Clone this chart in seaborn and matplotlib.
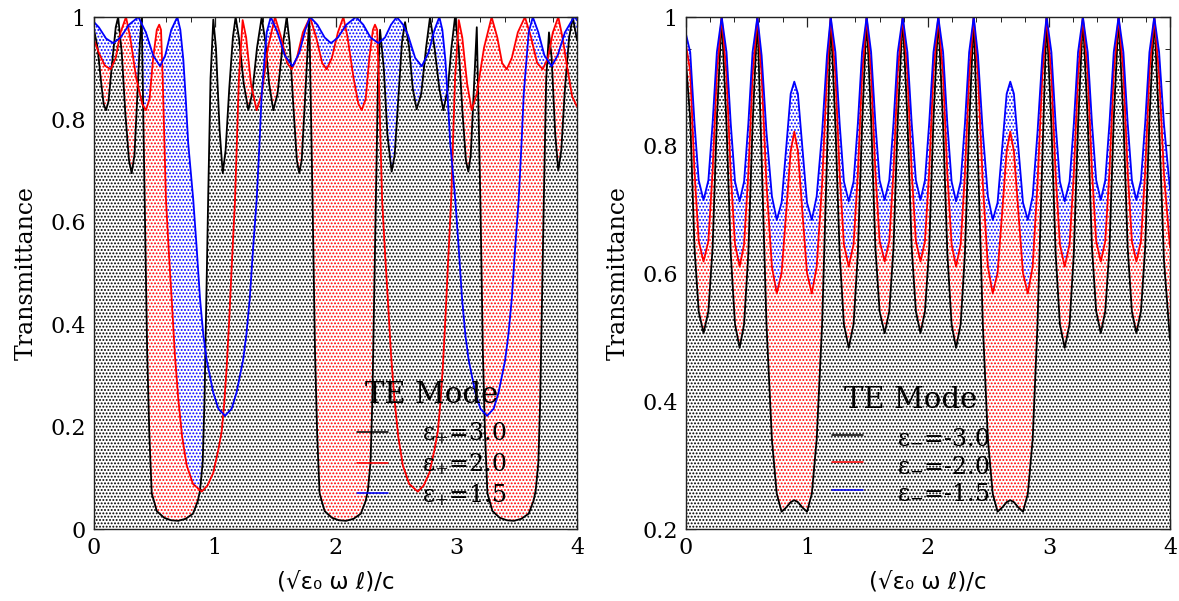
import matplotlib
matplotlib.use("Agg")
import matplotlib.pyplot as plt
import seaborn as sns
from matplotlib.lines import Line2D
from matplotlib.ticker import MultipleLocator

# ---------------- Left panel (epsilon_+ > 0) ----------------
left_black_x = [0.00, 0.03, 0.06, 0.08, 0.099, 0.12, 0.15, 0.18, 0.20, 0.23, 0.26, 0.29, 0.312, 0.335, 0.36, 0.38, 0.395,
                0.42, 0.44, 0.458, 0.478, 0.52, 0.58, 0.64, 0.698, 0.76, 0.82, 0.86, 0.878, 0.90, 0.915, 0.93, 0.945, 0.965, 0.988,
                1.01, 1.04, 1.066, 1.09, 1.12, 1.15, 1.173,
                1.20, 1.24, 1.278, 1.31, 1.35, 1.389,
                1.42, 1.45, 1.485, 1.52, 1.56, 1.596,
                1.62, 1.65, 1.68, 1.70, 1.72, 1.75, 1.783,
                1.81, 1.83, 1.848, 1.868, 1.91, 1.97, 2.03, 2.088, 2.15, 2.21, 2.25, 2.268, 2.29, 2.305, 2.32, 2.335, 2.352, 2.369,
                2.40, 2.43, 2.465, 2.49, 2.52, 2.55, 2.576,
                2.61, 2.64, 2.672, 2.71, 2.75, 2.783,
                2.82, 2.86, 2.893, 2.93, 2.96, 2.99,
                3.02, 3.05, 3.08, 3.10, 3.12, 3.15, 3.17,
                3.20, 3.22, 3.238, 3.258, 3.30, 3.36, 3.42, 3.478, 3.54, 3.60, 3.64, 3.658, 3.68, 3.695, 3.71, 3.725, 3.745, 3.768,
                3.79, 3.82, 3.845, 3.87, 3.90, 3.935, 3.965, 4.00]
left_black = [0.975, 0.94, 0.87, 0.83, 0.818, 0.835, 0.91, 0.98, 1.0, 0.93, 0.81, 0.72, 0.695, 0.73, 0.85, 0.95, 1.0,
              0.64, 0.35, 0.187, 0.07, 0.035, 0.022, 0.017, 0.016, 0.02, 0.03, 0.055, 0.075, 0.13, 0.25, 0.45, 0.64, 0.88, 0.995,
              0.94, 0.78, 0.695, 0.74, 0.86, 0.96, 1.0,
              0.96, 0.87, 0.818, 0.85, 0.94, 1.0,
              0.95, 0.87, 0.818, 0.85, 0.94, 1.0,
              0.95, 0.83, 0.72, 0.695, 0.72, 0.85, 1.0,
              0.64, 0.35, 0.187, 0.07, 0.035, 0.022, 0.017, 0.016, 0.02, 0.03, 0.055, 0.075, 0.13, 0.25, 0.45, 0.64, 0.88, 0.975,
              0.9, 0.77, 0.698, 0.73, 0.84, 0.95, 0.99,
              0.94, 0.86, 0.82, 0.85, 0.94, 1.0,
              0.94, 0.86, 0.818, 0.86, 0.94, 1.0,
              0.94, 0.82, 0.72, 0.698, 0.73, 0.88, 0.98,
              0.64, 0.35, 0.187, 0.07, 0.035, 0.022, 0.017, 0.016, 0.02, 0.03, 0.055, 0.075, 0.13, 0.25, 0.45, 0.64, 0.88, 0.97,
              0.92, 0.77, 0.70, 0.74, 0.86, 0.96, 1.0, 0.955]

left_red_x = [0.00, 0.04, 0.09, 0.138, 0.18, 0.22, 0.265, 0.30, 0.35, 0.40,
              0.43, 0.46, 0.49, 0.52, 0.54, 0.555, 0.569, 0.596, 0.62, 0.643,
              0.67, 0.698, 0.73, 0.768, 0.82, 0.892, 0.94, 0.988, 1.03, 1.057,
              1.08, 1.099, 1.12, 1.14, 1.168, 1.20, 1.231, 1.26, 1.30, 1.347,
              1.39, 1.44, 1.499, 1.55, 1.60, 1.637, 1.68, 1.73, 1.789, 1.84,
              1.89, 1.927, 1.97, 2.02, 2.065, 2.10, 2.15, 2.19, 2.217, 2.25,
              2.28, 2.31, 2.327, 2.345, 2.359, 2.386, 2.41, 2.433, 2.46, 2.488,
              2.52, 2.558, 2.61, 2.682, 2.73, 2.778, 2.82, 2.847, 2.87, 2.889,
              2.91, 2.93, 2.958, 2.99, 3.021, 3.05, 3.09, 3.128, 3.17, 3.23,
              3.293, 3.34, 3.38, 3.418, 3.46, 3.51, 3.569, 3.62, 3.67, 3.716,
              3.76, 3.80, 3.845, 3.88, 3.92, 3.96, 4.00]
left_red = [0.955, 0.93, 0.905, 0.898, 0.92, 0.97, 1.0, 0.96, 0.88, 0.83,
            0.818, 0.84, 0.92, 0.975, 0.985, 0.975, 0.88, 0.643, 0.54, 0.45,
            0.34, 0.254, 0.18, 0.124, 0.088, 0.073, 0.085, 0.11, 0.155, 0.19,
            0.25, 0.317, 0.41, 0.51, 0.643, 0.88, 0.994, 0.96, 0.87, 0.818,
            0.85, 0.94, 1.0, 0.96, 0.91, 0.898, 0.92, 0.97, 1.0, 0.96,
            0.91, 0.898, 0.92, 0.97, 1.0, 0.96, 0.88, 0.83, 0.818, 0.84,
            0.92, 0.975, 0.985, 0.975, 0.88, 0.643, 0.54, 0.45, 0.34, 0.254,
            0.18, 0.124, 0.088, 0.073, 0.085, 0.11, 0.155, 0.19, 0.25, 0.317,
            0.41, 0.51, 0.643, 0.88, 0.994, 0.96, 0.87, 0.818, 0.85, 0.94,
            1.0, 0.96, 0.91, 0.898, 0.92, 0.97, 1.0, 0.96, 0.91, 0.898,
            0.92, 0.97, 1.0, 0.96, 0.90, 0.845, 0.825]

left_blue_x = [0.00, 0.04, 0.10, 0.16, 0.22, 0.29, 0.367, 0.43, 0.49, 0.547,
               0.59, 0.64, 0.69, 0.715, 0.74, 0.76, 0.78, 0.822, 0.85, 0.878,
               0.905, 0.933, 0.988, 1.03, 1.085, 1.14, 1.18, 1.235, 1.262, 1.29,
               1.318, 1.347, 1.37, 1.389, 1.43, 1.464, 1.52, 1.58, 1.645, 1.70,
               1.75, 1.789, 1.85, 1.91, 1.963, 2.02, 2.09, 2.17, 2.23, 2.29,
               2.355, 2.41, 2.46, 2.507, 2.56, 2.60, 2.66, 2.714, 2.77, 2.82,
               2.86, 2.885, 2.91, 2.93, 2.95, 2.992, 3.02, 3.048, 3.075, 3.103,
               3.158, 3.20, 3.255, 3.31, 3.35, 3.405, 3.432, 3.46, 3.488, 3.517,
               3.54, 3.559, 3.60, 3.634, 3.68, 3.73, 3.79, 3.84, 3.90, 3.975, 4.00]
left_blue = [0.99, 0.98, 0.958, 0.949, 0.96, 0.985, 1.0, 0.97, 0.925, 0.904,
             0.925, 0.975, 1.0, 0.975, 0.916, 0.84, 0.754, 0.643, 0.55, 0.45,
             0.38, 0.33, 0.266, 0.235, 0.221, 0.235, 0.266, 0.33, 0.38, 0.45,
             0.55, 0.643, 0.75, 0.85, 0.97, 1.0, 0.97, 0.925, 0.904, 0.93,
             0.975, 1.0, 0.985, 0.96, 0.949, 0.96, 0.985, 1.0, 0.985, 0.96,
             0.949, 0.96, 0.985, 1.0, 0.985, 0.965, 0.92, 0.904, 0.93, 0.975,
             1.0, 0.975, 0.916, 0.84, 0.754, 0.643, 0.55, 0.45, 0.38, 0.33,
             0.266, 0.235, 0.221, 0.235, 0.266, 0.33, 0.38, 0.45, 0.55, 0.643,
             0.75, 0.85, 0.97, 1.0, 0.97, 0.925, 0.904, 0.925, 0.97, 1.0, 0.995]

# ---------------- Right panel (epsilon_- < 0) ----------------
right_x = [0.0, 0.035, 0.07, 0.105, 0.145, 0.185, 0.22, 0.255, 0.295,
           0.335, 0.37, 0.405, 0.443, 0.48, 0.515, 0.55, 0.59,
           0.625, 0.665, 0.71, 0.75, 0.79, 0.83, 0.865, 0.895, 0.925, 0.96, 1.0, 1.04, 1.08, 1.125, 1.165, 1.196,
           1.235, 1.27, 1.305, 1.345, 1.385, 1.42, 1.455, 1.493,
           1.53, 1.565, 1.60, 1.642, 1.68, 1.715, 1.75, 1.791,
           1.83, 1.865, 1.90, 1.938, 1.975, 2.01, 2.045, 2.085,
           2.125, 2.16, 2.195, 2.232, 2.27, 2.305, 2.34, 2.378,
           2.413, 2.453, 2.495, 2.535, 2.575, 2.615, 2.65, 2.68, 2.71, 2.745, 2.785, 2.825, 2.865, 2.905, 2.945, 2.98,
           3.02, 3.055, 3.09, 3.13, 3.17, 3.205, 3.24, 3.28,
           3.32, 3.355, 3.39, 3.428, 3.465, 3.5, 3.535, 3.575,
           3.615, 3.65, 3.685, 3.722, 3.76, 3.795, 3.83, 3.87,
           3.91, 3.95, 4.0]
right_black = [0.93, 0.84, 0.64, 0.54, 0.506, 0.54, 0.64, 0.84, 1.0,
               0.83, 0.63, 0.52, 0.483, 0.52, 0.63, 0.83, 1.0,
               0.78, 0.52, 0.34, 0.255, 0.227, 0.234, 0.242, 0.245, 0.242, 0.234, 0.227, 0.255, 0.34, 0.52, 0.78, 1.0,
               0.83, 0.63, 0.52, 0.483, 0.52, 0.63, 0.83, 1.0,
               0.84, 0.64, 0.54, 0.506, 0.54, 0.64, 0.84, 1.0,
               0.84, 0.64, 0.54, 0.506, 0.54, 0.64, 0.84, 1.0,
               0.83, 0.63, 0.52, 0.483, 0.52, 0.63, 0.83, 1.0,
               0.78, 0.52, 0.34, 0.255, 0.227, 0.234, 0.242, 0.245, 0.242, 0.234, 0.227, 0.255, 0.34, 0.52, 0.78, 1.0,
               0.83, 0.63, 0.52, 0.483, 0.52, 0.63, 0.83, 1.0,
               0.84, 0.64, 0.54, 0.506, 0.54, 0.64, 0.84, 1.0,
               0.84, 0.64, 0.54, 0.506, 0.54, 0.64, 0.84, 1.0,
               0.83, 0.62, 0.495]
right_red = [0.956, 0.915, 0.76, 0.65, 0.618, 0.65, 0.76, 0.915, 1.0,
             0.91, 0.755, 0.645, 0.61, 0.645, 0.755, 0.91, 1.0,
             0.91, 0.74, 0.61, 0.568, 0.6, 0.7, 0.79, 0.821, 0.79, 0.7, 0.6, 0.568, 0.61, 0.74, 0.91, 1.0,
             0.91, 0.755, 0.645, 0.61, 0.645, 0.755, 0.91, 1.0,
             0.915, 0.76, 0.65, 0.618, 0.65, 0.76, 0.915, 1.0,
             0.915, 0.76, 0.65, 0.618, 0.65, 0.76, 0.915, 1.0,
             0.91, 0.755, 0.645, 0.61, 0.645, 0.755, 0.91, 1.0,
             0.91, 0.74, 0.61, 0.568, 0.6, 0.7, 0.79, 0.821, 0.79, 0.7, 0.6, 0.568, 0.61, 0.74, 0.91, 1.0,
             0.91, 0.755, 0.645, 0.61, 0.645, 0.755, 0.91, 1.0,
             0.915, 0.76, 0.65, 0.618, 0.65, 0.76, 0.915, 1.0,
             0.915, 0.76, 0.65, 0.618, 0.65, 0.76, 0.915, 1.0,
             0.91, 0.755, 0.64]
right_blue = [0.973, 0.945, 0.835, 0.745, 0.714, 0.745, 0.835, 0.945, 1.0,
              0.945, 0.833, 0.743, 0.712, 0.743, 0.833, 0.945, 1.0,
              0.94, 0.82, 0.72, 0.683, 0.71, 0.8, 0.88, 0.899, 0.88, 0.8, 0.71, 0.683, 0.72, 0.82, 0.94, 1.0,
              0.945, 0.833, 0.743, 0.712, 0.743, 0.833, 0.945, 1.0,
              0.945, 0.835, 0.745, 0.714, 0.745, 0.835, 0.945, 1.0,
              0.945, 0.835, 0.745, 0.714, 0.745, 0.835, 0.945, 1.0,
              0.945, 0.833, 0.743, 0.712, 0.743, 0.833, 0.945, 1.0,
              0.94, 0.82, 0.72, 0.683, 0.71, 0.8, 0.88, 0.899, 0.88, 0.8, 0.71, 0.683, 0.72, 0.82, 0.94, 1.0,
              0.945, 0.833, 0.743, 0.712, 0.743, 0.833, 0.945, 1.0,
              0.945, 0.835, 0.745, 0.714, 0.745, 0.835, 0.945, 1.0,
              0.945, 0.835, 0.745, 0.714, 0.745, 0.835, 0.945, 1.0,
              0.945, 0.833, 0.73]

left_labels = [r"ε$_{+}$=3.0", r"ε$_{+}$=2.0", r"ε$_{+}$=1.5"]
right_labels = [r"ε$_{-}$=-3.0", r"ε$_{-}$=-2.0", r"ε$_{-}$=-1.5"]
legend_title = "TE Mode"
series_colors = ["#000000", "#ff0000", "#0000ff"]
x_ticks = [0, 1, 2, 3, 4]
x_ticklabels = ["0", "1", "2", "3", "4"]
left_yticks = [0, 0.2, 0.4, 0.6, 0.8, 1.0]
left_yticklabels = ["0", "0.2", "0.4", "0.6", "0.8", "1"]
right_yticks = [0.2, 0.4, 0.6, 0.8, 1.0]
right_yticklabels = ["0.2", "0.4", "0.6", "0.8", "1"]
x_label = "(√ε₀ ω ℓ)/c"
y_label = "Transmittance"

# ---------------- Style ----------------
sns.set_theme(style="ticks")
plt.rcParams["font.family"] = ["DejaVu Serif", "DejaVu Sans"]
plt.rcParams["mathtext.fontset"] = "dejavuserif"
plt.rcParams["hatch.linewidth"] = 0.9
plt.rcParams["axes.edgecolor"] = "#222222"
plt.rcParams["axes.linewidth"] = 1.0
plt.rcParams["text.color"] = "black"
plt.rcParams["axes.labelcolor"] = "black"
plt.rcParams["xtick.color"] = "black"
plt.rcParams["ytick.color"] = "black"
plt.rcParams["legend.labelcolor"] = "black"

W, H = 1179, 601
fig = plt.figure(figsize=(W / 100, H / 100), dpi=100)
fig.patch.set_facecolor("white")
axL = fig.add_axes([94 / W, 1 - 529 / H, 483 / W, 512 / H])
axR = fig.add_axes([686 / W, 1 - 529 / H, 484 / W, 512 / H])


def draw_panel(ax, curves, labels, ymin, yticks, yticklabels, legend_center):
    # fills: blue at bottom, red above, black on top (each curve filled down to the axis)
    fill_z = [1.3, 1.2, 1.1]
    for (x, y), c, z in zip(curves, series_colors, fill_z):
        ax.fill_between(x, ymin - 0.1, y, facecolor="white", edgecolor=c,
                        hatch=".....", linewidth=0, zorder=z)
    for (x, y), c in zip(curves, series_colors):
        sns.lineplot(x=x, y=y, color=c, linewidth=1.3, ax=ax, estimator=None,
                     sort=False, zorder=4)
    ax.set_xlim(0, 4)
    ax.set_ylim(ymin, 1.0)
    ax.set_xticks(x_ticks)
    ax.set_xticklabels(x_ticklabels)
    ax.set_yticks(yticks)
    ax.set_yticklabels(yticklabels)
    ax.xaxis.set_minor_locator(MultipleLocator(0.2))
    ax.yaxis.set_minor_locator(MultipleLocator(0.05))
    ax.tick_params(which="both", direction="in", top=True, right=True,
                   labelsize=16, pad=6, color="#222222", labelcolor="black")
    ax.tick_params(which="major", length=7, width=0.9)
    ax.tick_params(which="minor", length=3.5, width=0.7)
    ax.set_xlabel(x_label, fontsize=16.5, family=["DejaVu Sans"], labelpad=8,
                  color="black")
    ax.set_ylabel(y_label, fontsize=17, labelpad=9, color="black")
    handles = [Line2D([0], [0], color=c, lw=1.1) for c in series_colors]
    leg = ax.legend(handles, labels, title=legend_title, frameon=False,
                    fontsize=17, title_fontsize=21, handlelength=1.3,
                    handletextpad=1.45, labelspacing=0.2, loc="center",
                    bbox_to_anchor=legend_center)
    leg._legend_box.sep = 8
    leg.get_title().set_color("black")
    for t in leg.get_texts():
        t.set_color("black")
    leg.set_zorder(6)
    for s in ax.spines.values():
        s.set_zorder(7)
        s.set_visible(True)


draw_panel(axL,
           [(left_black_x, left_black), (left_red_x, left_red), (left_blue_x, left_blue)],
           left_labels, 0.0, left_yticks, left_yticklabels, (0.70, 0.165))
draw_panel(axR,
           [(right_x, right_black), (right_x, right_red), (right_x, right_blue)],
           right_labels, 0.2, right_yticks, right_yticklabels, (0.465, 0.165))

fig.savefig("out.png", dpi=100, facecolor="white")
